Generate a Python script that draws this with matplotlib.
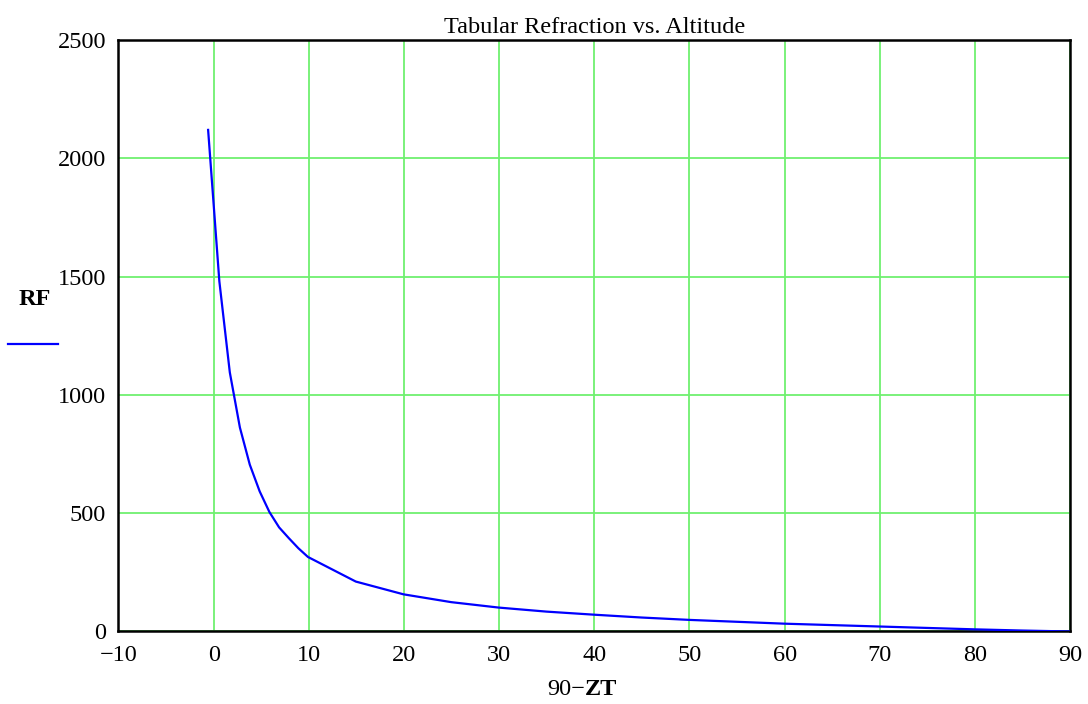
import matplotlib
matplotlib.use("Agg")
import matplotlib.pyplot as plt
import numpy as np

# data (90-ZT in degrees, RF in arcsec)
alt = [-0.58, 0.6, 1.7, 2.76, 3.8, 4.84, 5.86, 6.88, 7.89, 8.9, 9.91,
       14.94, 19.96, 24.97, 29.97, 34.98, 39.98, 44.98, 49.99, 54.99,
       59.99, 64.99, 70.0, 75.0, 80.0, 85.0, 90.0]
rf = [2120, 1480, 1095, 862, 705, 592, 505, 440, 395, 352, 315,
      211, 157, 124, 101, 84, 71, 59, 49, 41,
      33, 27, 21, 15, 9, 4, 0]
xticks = list(range(-10, 91, 10))
yticks = list(range(0, 2501, 500))

fs = 17.5
plt.rcParams['font.family'] = ['Liberation Serif', 'DejaVu Serif']
fig = plt.figure(figsize=(10.88, 7.04), dpi=100)
ax = fig.add_axes([0.1089, 0.103, 0.8746, 0.8402])

ax.plot(alt, rf, color='#0000ff', lw=1.6, zorder=3)

ax.set_xlim(-10, 90)
ax.set_ylim(0, 2500)
ax.set_xticks(xticks)
ax.set_yticks(yticks)
ax.set_xticklabels([str(t).replace('-', '\u2212') for t in xticks])
ax.grid(True, color='#6ff06f', lw=1.3)
ax.set_axisbelow(True)
ax.tick_params(length=0, labelsize=fs)
ax.tick_params(axis='y', pad=9)
ax.tick_params(axis='x', pad=10)
for s in ax.spines.values():
    s.set_linewidth(1.8)
    s.set_color('black')

ax.set_title('Tabular Refraction vs. Altitude', fontsize=fs, pad=5)

# x label: "90−" normal, "ZT" bold
fig.text(0.538, 0.02, '90\u2212', fontsize=fs, ha='right', va='center')
fig.text(0.538, 0.02, 'ZT', fontsize=fs, fontweight='bold', ha='left', va='center')

# y label with legend line
fig.text(0.032, 0.574, 'RF', fontsize=fs, fontweight='bold', ha='center', va='center')
fig.add_artist(plt.Line2D([0.007, 0.053], [0.512, 0.512], color='#0000ff', lw=1.6,
                          transform=fig.transFigure))

fig.savefig('out.png', dpi=100)
